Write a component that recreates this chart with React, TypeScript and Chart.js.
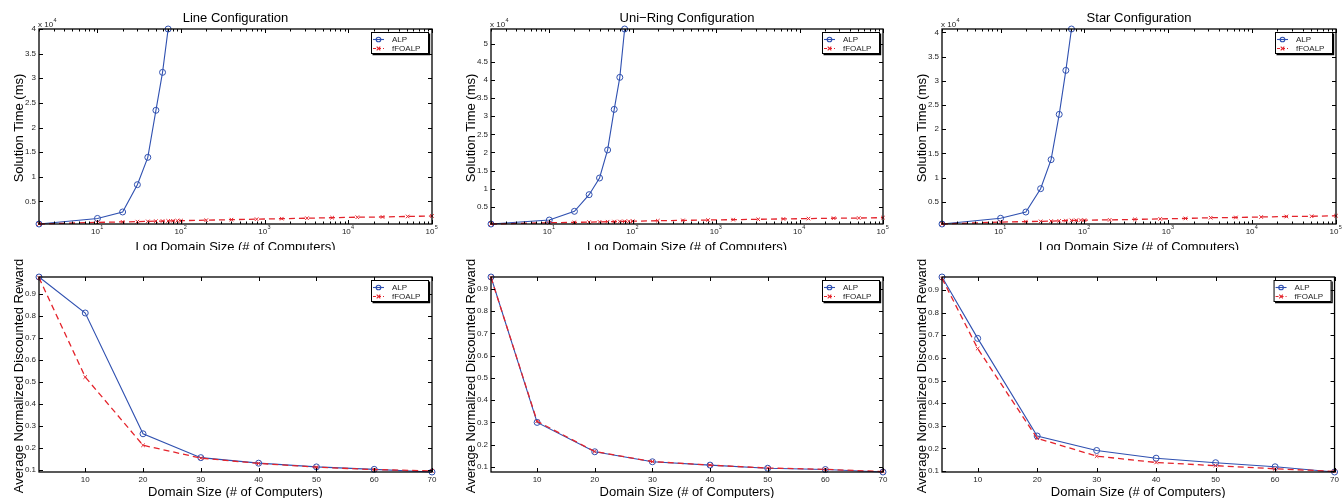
import React, { useEffect, useRef } from 'react';
import { Chart, registerables } from 'chart.js';

Chart.register(...registerables);

const FONT = '"Liberation Sans", Arial, Helvetica, sans-serif';
const BLUE = '#2f50b0';
const RED = '#e4232b';
const INK = '#1e1e1e';

// ---------- data ----------
const SERIES_NAMES = ['ALP', 'fFOALP'];
const PANEL_TITLES = ['Line Configuration', 'Uni\u2212Ring Configuration', 'Star Configuration'];

const TIME_X_ALP = [2, 10, 20, 30, 40, 50, 60, 70];
const TIME_X_ALP_RING = [2, 10, 20, 30, 40, 50, 60, 70, 80];
const TIME_X_FFO = [2, 10, 20, 30, 40, 50, 60, 70, 80, 90, 100, 200, 400, 800, 1600, 3200, 6400, 12800, 25600, 51200, 100000];

const LINE_TIME_ALP = [420, 1550, 2860, 8400, 13950, 23500, 31200, 40000];
const LINE_TIME_FFO = [420, 750, 850, 900, 950, 1000, 1020, 1050, 1070, 1090, 1100, 1200, 1300, 1400, 1500, 1600, 1700, 1800, 1850, 1950, 2050];

const RING_TIME_ALP = [250, 1350, 3750, 8350, 12950, 20700, 31900, 40750, 54100];
const RING_TIME_FFO = [250, 600, 700, 780, 830, 880, 920, 950, 980, 1000, 1020, 1150, 1250, 1350, 1450, 1550, 1650, 1750, 1850, 1900, 2000];

const STAR_TIME_ALP = [400, 1580, 2880, 7700, 13700, 23050, 32150, 40700];
const STAR_TIME_FFO = [400, 800, 900, 950, 1000, 1050, 1100, 1150, 1150, 1200, 1200, 1250, 1350, 1450, 1550, 1700, 1750, 1850, 1950, 2000, 2100];

const REWARD_X = [2, 10, 20, 30, 40, 50, 60, 70];
const REWARD_X_STAR = [4, 10, 20, 30, 40, 50, 60, 70];

const LINE_REWARD_ALP = [0.975, 0.812, 0.265, 0.157, 0.132, 0.115, 0.104, 0.092];
const LINE_REWARD_FFO = [0.972, 0.522, 0.213, 0.155, 0.131, 0.114, 0.103, 0.097];
const RING_REWARD_ALP = [0.954, 0.300, 0.168, 0.123, 0.108, 0.094, 0.088, 0.077];
const RING_REWARD_FFO = [0.952, 0.305, 0.169, 0.124, 0.108, 0.095, 0.089, 0.079];
const STAR_REWARD_ALP = [0.957, 0.686, 0.255, 0.191, 0.157, 0.137, 0.119, 0.096];
const STAR_REWARD_FFO = [0.951, 0.641, 0.245, 0.166, 0.138, 0.124, 0.110, 0.099];

const TIME_TICKS = [5000, 10000, 15000, 20000, 25000, 30000, 35000, 40000];
const TIME_TICKS_RING = [5000, 10000, 15000, 20000, 25000, 30000, 35000, 40000, 45000, 50000];
const LOG_TICKS = [10, 100, 1000, 10000, 100000];
const REWARD_TICKS = [0.1, 0.2, 0.3, 0.4, 0.5, 0.6, 0.7, 0.8, 0.9];
const DOMAIN_TICKS = [10, 20, 30, 40, 50, 60, 70];

const X_TITLE_TOP = 'Log Domain Size (# of Computers)';
const X_TITLE_BOTTOM = 'Domain Size (# of Computers)';
const Y_TITLE_TOP = 'Solution Time (ms)';
const Y_TITLE_BOTTOM = 'Average Normalized Discounted Reward';

// ---------- layout ----------
type Panel = {
  cl: number; ct: number; cw: number; ch: number;
  L: number; R: number; T: number; B: number;
  log: boolean;
  title: string;
  xTitle: string; yTitle: string;
  alpX: number[]; alp: number[];
  ffoX: number[]; ffo: number[];
  xTicks: number[]; yTicks: number[];
  yScale: number;
  xTitleBase: number;
};

const COLS = [
  { cl: 0, cw: 447, L: 39, R: 432 },
  { cl: 447, cw: 446, L: 491, R: 883 },
  { cl: 893, cw: 449, L: 942, R: 1336 },
];

const TOP_DATA = [
  [TIME_X_ALP, LINE_TIME_ALP, LINE_TIME_FFO, TIME_TICKS],
  [TIME_X_ALP_RING, RING_TIME_ALP, RING_TIME_FFO, TIME_TICKS_RING],
  [TIME_X_ALP, STAR_TIME_ALP, STAR_TIME_FFO, TIME_TICKS],
];
const BOTTOM_DATA = [
  [REWARD_X, LINE_REWARD_ALP, LINE_REWARD_FFO],
  [REWARD_X, RING_REWARD_ALP, RING_REWARD_FFO],
  [REWARD_X_STAR, STAR_REWARD_ALP, STAR_REWARD_FFO],
];

const PANELS: Panel[] = [];
COLS.forEach((c, i) => {
  const d = TOP_DATA[i];
  PANELS.push({
    cl: c.cl, cw: c.cw, ct: 0, ch: 250, L: c.L, R: c.R, T: 29, B: 224,
    log: true, title: PANEL_TITLES[i], xTitle: X_TITLE_TOP, yTitle: Y_TITLE_TOP,
    alpX: d[0], alp: d[1], ffoX: TIME_X_FFO, ffo: d[2],
    xTicks: LOG_TICKS, yTicks: d[3], yScale: 1e4, xTitleBase: 250.5,
  });
});
COLS.forEach((c, i) => {
  const d = BOTTOM_DATA[i];
  PANELS.push({
    cl: c.cl, cw: c.cw, ct: 250, ch: 248, L: c.L, R: i === 2 ? 1335 : c.R, T: 277, B: 472,
    log: false, title: '', xTitle: X_TITLE_BOTTOM, yTitle: Y_TITLE_BOTTOM,
    alpX: d[0], alp: d[1], ffoX: d[0], ffo: d[2],
    xTicks: DOMAIN_TICKS, yTicks: REWARD_TICKS, yScale: 1, xTitleBase: 495.5,
  });
});

// ---------- plugin ----------
const matlabPlugin = {
  id: 'matlab',
  afterDraw(chart: any, _args: any, opts: any) {
    const ctx: CanvasRenderingContext2D = chart.ctx;
    const a = chart.chartArea;
    const xs = chart.scales.x;
    const ys = chart.scales.y;
    ctx.save();
    ctx.strokeStyle = '#000';
    ctx.fillStyle = '#000';
    // box
    ctx.lineWidth = 1.3;
    ctx.strokeRect(a.left, a.top, a.right - a.left, a.bottom - a.top);
    // ticks
    ctx.lineWidth = 1;
    ctx.beginPath();
    const major = 4;
    xs.ticks.forEach((t: any) => {
      const px = Math.round(xs.getPixelForValue(t.value)) + 0.5;
      ctx.moveTo(px, a.bottom); ctx.lineTo(px, a.bottom - major);
      ctx.moveTo(px, a.top); ctx.lineTo(px, a.top + major);
    });
    if (opts.log) {
      for (let k = 0; k < 5; k++) {
        for (let m = 2; m <= 9; m++) {
          const v = m * Math.pow(10, k);
          if (v < xs.min || v > xs.max) continue;
          const px = Math.round(xs.getPixelForValue(v)) + 0.5;
          ctx.moveTo(px, a.bottom); ctx.lineTo(px, a.bottom - 2.5);
          ctx.moveTo(px, a.top); ctx.lineTo(px, a.top + 2.5);
        }
      }
    }
    ys.ticks.forEach((t: any) => {
      const py = Math.round(ys.getPixelForValue(t.value)) + 0.5;
      ctx.moveTo(a.left, py); ctx.lineTo(a.left + major, py);
      ctx.moveTo(a.right, py); ctx.lineTo(a.right - major, py);
    });
    ctx.stroke();

    // log tick labels
    ctx.fillStyle = INK;
    if (opts.log) {
      xs.ticks.forEach((t: any) => {
        const px = xs.getPixelForValue(t.value);
        const exp = String(Math.round(Math.log10(t.value)));
        ctx.font = `8px ${FONT}`;
        const w1 = ctx.measureText('10').width;
        ctx.font = `5.5px ${FONT}`;
        const w2 = ctx.measureText(exp).width;
        const x0 = px - (w1 + w2) / 2 - 0.5;
        ctx.textAlign = 'left';
        ctx.textBaseline = 'alphabetic';
        ctx.font = `8px ${FONT}`;
        ctx.fillText('10', x0, a.bottom + 10);
        ctx.font = `5.5px ${FONT}`;
        ctx.fillText(exp, x0 + w1 + 0.3, a.bottom + 5.3);
      });
      // x 10^4
      ctx.font = `8px ${FONT}`;
      ctx.fillText('x 10', a.left - 1, a.top - 2.5);
      const w = ctx.measureText('x 10').width;
      ctx.font = `5.5px ${FONT}`;
      ctx.fillText('4', a.left - 1 + w + 0.5, a.top - 7);
    }

    ctx.fillStyle = '#000';
    const cx = (a.left + a.right) / 2;
    // title
    if (opts.title) {
      ctx.font = `13px ${FONT}`;
      ctx.textAlign = 'center';
      ctx.textBaseline = 'alphabetic';
      ctx.fillText(opts.title, cx, a.top - 7);
    }
    // x title
    ctx.font = `13px ${FONT}`;
    ctx.textAlign = 'center';
    ctx.textBaseline = 'alphabetic';
    ctx.fillText(opts.xTitle, cx, opts.xTitleBase);
    // y title
    ctx.save();
    ctx.translate(a.left - 16.5, (a.top + a.bottom) / 2 + 1.5);
    ctx.rotate(-Math.PI / 2);
    ctx.fillText(opts.yTitle, 0, 0);
    ctx.restore();

    // legend
    const bl = a.right - 61;
    const bt = a.top + 3;
    const bw = 57;
    const bh = 21;
    ctx.fillStyle = '#fff';
    ctx.fillRect(bl, bt, bw, bh);
    ctx.strokeStyle = '#000';
    ctx.lineWidth = 1;
    ctx.strokeRect(bl + 0.5, bt + 0.5, bw, bh);
    ctx.lineWidth = 1.2;
    ctx.beginPath();
    ctx.moveTo(bl + bw + 1.6, bt + 1.5); ctx.lineTo(bl + bw + 1.6, bt + bh + 1.6);
    ctx.lineTo(bl + 1.5, bt + bh + 1.6);
    ctx.stroke();
    const ds = chart.data.datasets;
    const rows = [bt + 7.5, bt + 16.5];
    ds.forEach((d: any, i: number) => {
      const y = rows[i];
      ctx.save();
      ctx.strokeStyle = d.borderColor;
      ctx.lineWidth = 1.1;
      ctx.setLineDash(i === 1 ? [3, 2] : []);
      ctx.beginPath();
      ctx.moveTo(bl + 2, y); ctx.lineTo(bl + 13, y);
      ctx.stroke();
      ctx.setLineDash([]);
      const mx = bl + 7.5;
      ctx.beginPath();
      if (i === 0) {
        ctx.arc(mx, y, 2.3, 0, Math.PI * 2);
      } else {
        ctx.moveTo(mx - 1.8, y - 1.8); ctx.lineTo(mx + 1.8, y + 1.8);
        ctx.moveTo(mx - 1.8, y + 1.8); ctx.lineTo(mx + 1.8, y - 1.8);
      }
      ctx.stroke();
      ctx.restore();
      ctx.fillStyle = INK;
      ctx.font = `8px ${FONT}`;
      ctx.textAlign = 'left';
      ctx.textBaseline = 'middle';
      ctx.fillText(d.label, bl + 21, y + 0.5);
    });
    ctx.restore();
  },
};

function PanelChart({ p }: { p: Panel }) {
  const ref = useRef<HTMLCanvasElement>(null);
  useEffect(() => {
    const canvas = ref.current!;
    const all = [...p.alp, ...p.ffo];
    const allX = [...p.alpX, ...p.ffoX];
    const yW = 20;
    const xH = 15;
    const chart = new Chart(canvas, {
      type: 'line',
      data: {
        datasets: [
          {
            label: SERIES_NAMES[0],
            data: p.alpX.map((x, i) => ({ x, y: p.alp[i] })),
            borderColor: BLUE,
            borderWidth: 1.1,
            pointStyle: 'circle',
            pointRadius: 3,
            pointBorderWidth: 1,
            pointBorderColor: BLUE,
            pointBackgroundColor: 'rgba(0,0,0,0)',
            tension: 0,
            fill: false,
            clip: false,
            order: 2,
          } as any,
          {
            label: SERIES_NAMES[1],
            data: p.ffoX.map((x, i) => ({ x, y: p.ffo[i] })),
            borderColor: RED,
            borderWidth: 1.3,
            borderDash: [6, 4],
            pointStyle: 'crossRot',
            pointRadius: 2.5,
            pointBorderWidth: 1,
            pointBorderColor: RED,
            pointBackgroundColor: RED,
            tension: 0,
            fill: false,
            clip: false,
            order: 1,
          } as any,
        ],
      },
      options: {
        responsive: false,
        animation: false,
        events: [],
        layout: {
          padding: {
            left: p.L - p.cl - yW,
            right: p.cl + p.cw - p.R,
            top: p.T - p.ct,
            bottom: p.ct + p.ch - p.B - xH,
          },
        },
        plugins: {
          legend: { display: false },
          tooltip: { enabled: false },
          title: { display: false },
          matlab: {
            log: p.log,
            title: p.title,
            xTitle: p.xTitle,
            yTitle: p.yTitle,
            xTitleBase: p.xTitleBase - p.ct,
          },
        } as any,
        scales: {
          x: {
            type: p.log ? 'logarithmic' : 'linear',
            min: Math.min(...allX),
            max: Math.max(...allX),
            grid: { display: false, drawTicks: false },
            border: { display: false },
            ticks: {
              display: !p.log,
              font: { size: 8, family: FONT },
              color: INK,
              padding: 3,
              autoSkip: false,
              maxRotation: 0,
              minRotation: 0,
              callback: (v: any) => String(v),
            },
            afterBuildTicks: (s: any) => {
              s.ticks = p.xTicks.map((v) => ({ value: v }));
            },
            afterFit: (s: any) => {
              s.height = xH;
            },
          } as any,
          y: {
            type: 'linear',
            min: Math.min(...all),
            max: Math.max(...all),
            grid: { display: false, drawTicks: false },
            border: { display: false },
            ticks: {
              font: { size: 8, family: FONT },
              color: INK,
              padding: 3,
              autoSkip: false,
              callback: (v: any) => String(Math.round((v / p.yScale) * 1000) / 1000),
            },
            afterBuildTicks: (s: any) => {
              s.ticks = p.yTicks.map((v) => ({ value: v }));
            },
            afterFit: (s: any) => {
              s.width = yW;
            },
          } as any,
        },
      },
      plugins: [matlabPlugin],
    });
    return () => chart.destroy();
  }, [p]);
  return (
    <canvas
      ref={ref}
      width={p.cw}
      height={p.ch}
      style={{ position: 'absolute', left: p.cl, top: p.ct, width: p.cw, height: p.ch }}
    />
  );
}

export default function App() {
  useEffect(() => {
    document.body.style.margin = '0';
    document.body.style.background = '#fff';
  }, []);
  return (
    <div style={{ position: 'relative', width: 1342, height: 498, background: '#fff', overflow: 'hidden' }}>
      {PANELS.map((p, i) => (
        <PanelChart key={i} p={p} />
      ))}
    </div>
  );
}
